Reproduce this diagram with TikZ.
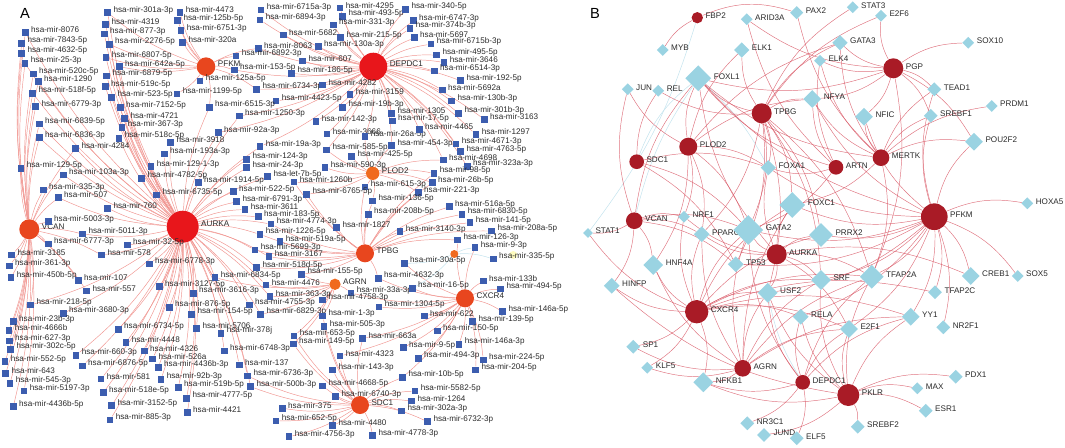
\documentclass[tikz,border=0pt]{standalone}
\usepackage{fontspec}
\setmainfont{Liberation Sans}
\usetikzlibrary{shapes.geometric}
\definecolor{sqblue}{HTML}{3C5DAF}
\definecolor{hubred}{HTML}{E8161B}
\definecolor{huborange}{HTML}{E8461E}
\definecolor{hublight}{HTML}{F06A1E}
\definecolor{aedgecol}{HTML}{F09590}
\definecolor{genered}{HTML}{A91B26}
\definecolor{tfblue}{HTML}{9AD3E2}
\definecolor{bedgecol}{HTML}{D95A68}
\definecolor{ltblue}{HTML}{C6E4EE}
\definecolor{labgray}{HTML}{2A2A2A}
\pgfdeclarelayer{edgelayer}
\pgfsetlayers{edgelayer,main}
\tikzset{
  mirlab/.style={font=\fontsize{6.1}{7}\selectfont, text=labgray, inner sep=0pt, yshift=2pt},
  blab/.style={font=\fontsize{6.1}{7}\selectfont, text=labgray, inner sep=0pt, yshift=1.5pt},
  mirsq/.style={rectangle, fill=sqblue, inner sep=0pt, minimum size=5pt},
  hubA/.style={circle, inner sep=0pt},
  genenode/.style={circle, fill=genered, inner sep=0pt},
  tfnode/.style={diamond, fill=tfblue, inner sep=0pt},
  aedge/.style={draw=aedgecol, line width=0.35pt},
  alight/.style={draw=ltblue, line width=0.4pt},
  bedge/.style={draw=bedgecol, line width=0.35pt, opacity=0.85},
  blight/.style={draw=ltblue, line width=0.4pt},
  panel/.style={font=\fontsize{11}{13}\selectfont, inner sep=0pt}
}
\begin{document}
\begin{tikzpicture}[x=0.75pt, y=-0.75pt, label distance=1.5pt]
\useasboundingbox (0,0) rectangle (1065,447);

% panel A
\node[panel] (labA) at (25,13) {A};

\node[hubA, fill=hubred, minimum size=24pt, label={[mirlab]right:AURKA}] (AURKA) at (182.7,226.7) {};
\node[hubA, fill=hubred, minimum size=21pt, label={[mirlab]right:DEPDC1}] (DEPDC1) at (373.3,66.7) {};
\node[hubA, fill=huborange, minimum size=14pt, label={[mirlab]right:PFKM}] (PFKM) at (206,66.7) {};
\node[hubA, fill=huborange, minimum size=15pt, label={[mirlab]right:VCAN}] (VCAN) at (29.3,229.3) {};
\node[hubA, fill=hublight, minimum size=10pt, label={[mirlab]right:PLOD2}] (PLOD2) at (372.7,173.3) {};
\node[hubA, fill=huborange, minimum size=13.5pt, label={[mirlab]right:TPBG}] (TPBG) at (365,253.3) {};
\node[hubA, fill=hublight, minimum size=8.5pt, label={[mirlab]right:AGRN}] (AGRN) at (335,284.3) {};
\node[hubA, fill=huborange, minimum size=13.5pt, label={[mirlab]right:CXCR4}] (CXCR4) at (465,298.3) {};
\node[hubA, fill=huborange, minimum size=13.5pt, label={[mirlab]right:SDC1}] (SDC1) at (360,405) {};
\node[hubA, fill=hublight, minimum size=6pt] (hubsmall) at (454.3,254) {};
\node[hubA, fill=yellow!25, minimum size=6pt] (hubyellow) at (513.3,255) {};

\foreach \mr/\x/\y in {8076/25.3/32.7, 7843-5p/21.7/43.3, 4632-5p/21.7/53.3, 25-3p/25/63.3,
  520c-5p/33.3/74, 1290/38.3/81.7, 518f-5p/32.7/93.3, 6779-3p/35.7/106.7, 6839-5p/39.3/124,
  6836-3p/39.3/137.7, 4284/75.7/148.3, 301a-3p/107.7/12.7, 4319/105.7/24.3, 877-3p/104.3/34,
  2276-5p/109.3/44.3, 6807-5p/106/57.7, 642a-5p/119.3/66.7, 6879-5p/106.7/76, 519c-5p/105.3/86.7,
  523-5p/111.7/97.3, 7152-5p/120.3/107.7, 4721/124.7/118.3, 367-3p/122/127.3, 518c-5p/119/138.3,
  4473/180/12.7, 125b-5p/177.7/20.7, 6751-3p/181/30.7, 320a/182.7/42.3, 3918/170.7/142.7,
  6715a-3p/261/10, 6894-3p/260/20, 5682/283.3/35, 8063/258.3/48.3, 6892-3p/236/56, 607/302.7/61,
  153-5p/234.3/70, 186-5p/291.7/73.3, 125a-5p/200/81, 1199-5p/177/94, 6734-3p/256.7/89.3,
  4282/322.7/85, 4423-5p/276/101, 6515-3p/209.3/107.3, 1250-3p/239.3/116, 92a-3p/218.3/132.7,
  3159/350/94.3, 19b-3p/342.7/107.3, 142-3p/316/121.7, 3666/327/134, 19a-3p/260/146.7,
  585-5p/326.7/150, 26a-5p/365/136.7, 4295/340/8, 493-5p/342.7/16.3, 331-3p/333.3/25,
  215-5p/340.7/37.7, 130a-3p/318.3/46.7, 340-5p/405.7/9.3, 6747-3p/413.3/20.7, 374b-3p/410/28.3,
  5697/414.3/37.7, 6715b-3p/431/44, 495-5p/436.7/55, 3646/444/62.3, 6514-3p/434.3/71,
  192-5p/460.7/80.7, 5692a/442.3/90, 130b-3p/451.7/101, 301b-3p/458.7/113.3, 3163/484.3/119.3,
  1305/391.7/113.3, 17-5p/392.3/121, 4465/419.3/129.3, 1297/476/134.7, 454-3p/391.7/145.7,
  4671-3p/456/144, 4763-5p/460.7/151.7, 425-5p/351.7/156.7, 590-3p/325/167.7, 4698/443.3/160,
  323a-3p/467.3/166.5, 98-5p/434/173.3, 26b-5p/432.3/182.7, 221-3p/418.3/192.7, 615-3p/365/187,
  136-5p/372.7/201, 208b-5p/368.3/214.3, 1827/336.7/227.7, 516a-5p/449.3/206.7, 6830-5p/462/214.3,
  141-5p/470/222.7, 3140-3p/400/231.7, 208a-5p/491.7/231, 126-3p/457.7/240, 9-3p/475/247.7,
  335-5p/493.3/259, 30a-5p/404.3/263.3, 4632-3p/378.3/278.3, 33a-3p/351/293, 16-5p/412.3/288.3,
  133b/483.3/281, 494-5p/500.7/289, 4758-3p/322.7/300, 129-5p/21/168.3, 103a-3p/63.3/175,
  335-3p/43.3/190, 507/58.3/197.7, 760/107.7/208.3, 5003-3p/48.3/221.7, 5011-3p/82.7/234,
  6777-3p/48.3/244, 32-5p/127.3/245, 578/101.7/255, 3185/11.7/255, 361-3p/9.3/266,
  450b-5p/11/277.7, 107/78.3/280.7, 557/86.7/291, 6778-3p/149.3/264, 3127-5p/159.3/286.7,
  3616-3p/193.3/293.3, 193a-3p/164.3/154, 129-1-3p/151/166.7, 4782-5p/141.7/178.3,
  6735-5p/156.7/195, 1914-5p/198.3/182.7, 124-3p/246.7/159.3, 24-3p/246.7/167.7, 1260b/294/182,
  6765-5p/306.7/194.3, 522-5p/233.3/191.7, 6791-3p/236.7/201.7, 3611/245/209.3, 183-5p/258.3/216.7,
  4774-3p/271/224, 1226-5p/260/234.3, 519a-5p/280/241.7, 5699-3p/255/250, 3167/269/256.7,
  518d-5p/256.7/267.7, 6834-5p/215/277.7, 155-5p/301.7/274.3, 4476/266/285, 363-3p/270/296.7,
  218-5p/30.7/305, 3680-3p/63.3/313.3, 23b-3p/13.3/321.7, 4666b/9/330.7, 627-3p/9.3/341,
  302c-5p/10.7/349.3, 552-5p/5/361.7, 643/5.7/373.3, 545-3p/10/383.3, 5197-3p/24/391,
  4436b-5p/13.3/406.7, 6734-5p/118.3/329.3, 4448/126/342.3, 660-3p/76/355.3, 6876-5p/82.3/366,
  4326/144.3/351, 526a/152.7/359, 4436b-3p/158.3/367.3, 581/101/379, 92b-3p/161/379.3,
  518e-5p/103.3/392.7, 519b-5p/178.3/387.3, 3152-5p/111.7/405.7, 4777-5p/186.7/398.3,
  885-3p/110/420, 4421/187.3/412.7, 876-5p/169.3/307.3, 154-5p/191.7/314.3, 5706/196.7/328.3,
  378j/221/333.3, 6748-3p/224.3/351, 137/239.3/365, 6736-3p/247.7/376, 500b-3p/250.7/386.7,
  4755-3p/249.3/305, 6829-3p/260.7/314.3, 1-3p/322.7/316, 505-3p/324/326.7, 653-5p/294/336,
  149-5p/293.3/344, 663a/362.7/338.3, 4323/340/356, 143-3p/332.7/370, 4668-5p/322.7/386,
  6740-3p/335.7/396.7, 375/282.3/408.3, 652-5p/276/421, 4480/332.7/425.7, 4756-3p/289/436.7,
  4778-3p/372.7/435.7, 1304-5p/379/307, 622/424.3/316, 146a-5p/502.7/311.7, 139-5p/472.7/321.7,
  150-5p/437.3/331, 146a-3p/459/344.3, 9-5p/403.3/347.7, 494-3p/418.3/358.3, 224-5p/483.3/360,
  204-5p/475.7/370, 10b-5p/402.7/377.3, 5582-5p/415/391, 1264/411.7/401, 302a-3p/401.7/411,
  6732-3p/427.7/421.7}
  \node[mirsq, label={[mirlab]right:hsa-mir-\mr}] (m\mr) at (\x,\y) {};
\node[mirsq, label={[mirlab]right:hsa-let-7b-5p}] (mlet7b) at (267.7,176.7) {};

\begin{pgfonlayer}{edgelayer}
\foreach \mr in {8076, 7843-5p, 4632-5p, 25-3p, 520c-5p, 1290, 518f-5p, 6779-3p, 6839-5p,
  6836-3p, 129-5p, 103a-3p, 335-3p, 507, 5003-3p, 5011-3p, 6777-3p, 3185, 361-3p, 450b-5p, 107,
  557, 218-5p, 23b-3p, 4666b, 627-3p, 302c-5p, 552-5p, 643, 545-3p, 5197-3p, 4436b-5p, 578, 4284}
  \draw[aedge] (VCAN) to[bend left=8] (m\mr);
\foreach \mr in {301a-3p, 4319, 877-3p, 2276-5p, 6807-5p, 642a-5p, 6879-5p, 519c-5p, 523-5p,
  7152-5p, 4721, 367-3p, 518c-5p, 3918, 193a-3p, 129-1-3p, 4782-5p, 6735-5p, 1914-5p, 760, 32-5p,
  6778-3p, 3127-5p, 3616-3p, 522-5p, 6791-3p, 3611, 183-5p, 4774-3p, 1226-5p, 5699-3p, 3167,
  518d-5p, 6834-5p, 876-5p, 154-5p, 5706, 378j, 6748-3p, 137, 6736-3p, 500b-3p, 4755-3p, 6734-5p,
  4448, 660-3p, 6876-5p, 4326, 526a, 4436b-3p, 581, 92b-3p, 518e-5p, 519b-5p, 3152-5p, 4777-5p,
  885-3p, 4421, 3680-3p, 92a-3p, 1250-3p, 6515-3p, 124-3p, 24-3p, 19a-3p, 363-3p, 6829-3p, 4476,
  4284, 103a-3p, 507, 578, 5011-3p, 218-5p, 6839-5p, 6836-3p, 518f-5p, 520c-5p, 8076, 25-3p}
  \draw[aedge] (AURKA) to[bend left=10] (m\mr);
\draw[aedge] (AURKA) to[bend left=10] (mlet7b);
\foreach \mr in {4473, 125b-5p, 6751-3p, 320a, 6892-3p, 153-5p, 125a-5p, 1199-5p, 6734-3p,
  642a-5p, 6807-5p, 8063, 6515-3p, 2276-5p, 301a-3p}
  \draw[aedge] (PFKM) to[bend left=10] (m\mr);
\foreach \mr in {6715a-3p, 6894-3p, 4295, 493-5p, 331-3p, 5682, 215-5p, 8063, 130a-3p, 607,
  186-5p, 4282, 340-5p, 6747-3p, 374b-3p, 5697, 6715b-3p, 495-5p, 3646, 6514-3p, 192-5p, 5692a,
  130b-3p, 301b-3p, 3163, 3159, 4423-5p, 19b-3p, 142-3p, 1305, 17-5p, 4465, 1297, 26a-5p, 454-3p,
  4671-3p, 4763-5p, 4698, 323a-3p, 3666, 585-5p, 6734-3p, 1250-3p, 92a-3p, 19a-3p, 153-5p}
  \draw[aedge] (DEPDC1) to[bend left=10] (m\mr);
\foreach \mr in {425-5p, 590-3p, 1260b, 6765-5p, 615-3p, 136-5p, 585-5p, 98-5p, 26b-5p, 221-3p,
  26a-5p, 454-3p, 4698}
  \draw[aedge] (PLOD2) to[bend left=10] (m\mr);
\foreach \mr in {1827, 208b-5p, 516a-5p, 6830-5p, 141-5p, 3140-3p, 208a-5p, 126-3p, 4632-3p,
  155-5p, 519a-5p, 4774-3p, 1226-5p, 136-5p, 6765-5p, 615-3p, 1260b, 221-3p, 98-5p, 26b-5p,
  5699-3p, 3167, 518d-5p}
  \draw[aedge] (TPBG) to[bend left=10] (m\mr);
\foreach \mr in {4476, 155-5p, 4758-3p, 363-3p, 6829-3p, 33a-3p, 1-3p, 653-5p, 149-5p, 6834-5p}
  \draw[aedge] (AGRN) to[bend left=10] (m\mr);
\foreach \mr in {16-5p, 133b, 494-5p, 1304-5p, 622, 146a-5p, 139-5p, 150-5p, 146a-3p, 9-5p,
  494-3p, 224-5p, 204-5p, 663a, 4323, 126-3p, 9-3p, 30a-5p, 33a-3p, 4632-3p, 10b-5p}
  \draw[aedge] (CXCR4) to[bend left=10] (m\mr);
\foreach \mr in {375, 652-5p, 4480, 4756-3p, 4778-3p, 6740-3p, 4668-5p, 143-3p, 10b-5p, 5582-5p,
  1264, 302a-3p, 6732-3p, 500b-3p, 505-3p, 1-3p, 4323, 653-5p, 149-5p, 6736-3p, 663a}
  \draw[aedge] (SDC1) to[bend left=10] (m\mr);
\foreach \mr in {9-3p, 335-5p, 16-5p, 30a-5p}
  \draw[alight] (hubsmall) to[bend left=10] (m\mr);
\end{pgfonlayer}

% panel B
\node[panel] (labB) at (595,13.3) {B};

\foreach \g/\x/\y/\s in {FBP2/697.3/17.7/8.5, PGP/893.3/68.3/15, TPBG/761.7/113.3/15,
  PLOD2/688.3/146.7/13.5, MERTK/881/157.7/12.5, SDC1/636.7/161.7/11, ARTN/836/167.3/11,
  PFKM/934.3/216.7/20, VCAN/634.3/220.7/12.5, AURKA/776.7/254.3/15, CXCR4/696.7/311.7/17.5,
  AGRN/742.7/368.3/12.5, DEPDC1/802.7/382.3/11, PKLR/848.3/395/16.5}
  \node[genenode, minimum size=\s pt, label={[blab]right:\g}] (b\g) at (\x,\y) {};

\foreach \t/\x/\y/\s in {ARID3A/746.7/19.3/9, PAX2/796.7/12.7/10, STAT3/852.7/7.3/9,
  E2F6/881/15.7/9, MYB/662.7/50/9, ELK1/741.7/50/11.5, GATA3/840/42.7/11.5, ELK4/820/60.7/9,
  SOX10/968.3/42.7/9, FOXL1/698.3/78.3/19.5, JUN/627.7/89.3/9, REL/658.3/90.7/9,
  TEAD1/934.3/89.3/10.5, NFYA/812.3/99/13.5, PRDM1/991.7/106/9, NFIC/864/116.7/13.5,
  SREBF1/930.7/115.7/10.5, POU2F2/974/141.7/13.5, FOXA1/768.3/167.7/11.5, FOXC1/792.3/205/19.5,
  HOXA5/1027.3/203.3/9, NRF1/684/216.7/9, STAT1/588/233/7.5, PPARG/701.7/234.3/12,
  GATA2/748.3/230/22.5, PRRX2/821/235/18, HNF4A/653.3/265/15, TP53/735.7/264.3/12,
  SRF/821/280/15, TFAP2A/871.7/276.7/18, CREB1/970.7/276/13.5, SOX5/1017.7/276/9,
  HINFP/611.7/285.7/12, USF2/767.7/292.7/15, TFAP2C/935/292.3/10.5, RELA/800.7/316.7/12,
  YY1/910.7/316.7/13.5, E2F1/849/329/13.5, NR2F1/943.3/327.3/10.5, SP1/633.3/346.7/10.5,
  KLF5/647.3/367.7/9, NFKB1/703.3/382.3/15, PDX1/955.7/376.7/10.5, MAX/917.3/388.3/9,
  ESR1/925.7/410.7/10.5, SREBF2/857.7/426.7/10.5, NR3C1/747.3/423.3/10.5, JUND/764/435/10.5,
  ELF5/796.7/438.3/10.5}
  \node[tfnode, minimum size=\s pt, label={[blab]right:\t}] (\t) at (\x,\y) {};

\begin{pgfonlayer}{edgelayer}
\draw[bedge] (bFBP2) to[bend right=15] (MYB);
\draw[bedge] (bFBP2) to[bend left=20] (PAX2);
\draw[blight] (bFBP2) to[bend left=10] (STAT1);
\draw[blight] (FOXL1) to[bend right=15] (bSDC1);
\draw[blight] (FOXL1) to[bend right=10] (bVCAN);
\draw[blight] (FOXL1) to[bend left=10] (FOXA1);
\draw[blight] (USF2) to[bend right=10] (bDEPDC1);
\foreach \t in {SOX10, GATA3, ELK4, ARID3A, TEAD1, SREBF1, NFYA, NFIC, FOXL1, POU2F2, TFAP2A, E2F6}
  \draw[bedge] (bPGP) to[bend left=16] (\t);
\foreach \t in {STAT3, E2F6, FOXL1, ELK1, NFYA, GATA2, FOXA1, FOXC1, USF2, SRF, GATA3, PPARG,
  TP53, TFAP2A, PRRX2, REL}
  \draw[bedge] (bTPBG) to[bend left=16] (\t);
\foreach \t in {FOXL1, ELK1, NFYA, GATA3, HNF4A, NRF1, FOXA1, GATA2, PPARG, JUN}
  \draw[bedge] (bPLOD2) to[bend left=16] (\t);
\foreach \t in {GATA3, NFIC, SREBF1, FOXC1, POU2F2, TFAP2A, PAX2, TEAD1, ELK4, PRDM1, FOXL1, NFYA}
  \draw[bedge] (bMERTK) to[bend left=16] (\t);
\foreach \t in {NFYA, FOXA1, FOXL1, GATA2, ELK4, ARID3A}
  \draw[bedge] (bARTN) to[bend left=16] (\t);
\foreach \t in {FOXA1, GATA2, REL, TP53}
  \draw[bedge] (bSDC1) to[bend left=16] (\t);
\foreach \t in {STAT1, PPARG, NRF1, GATA2, HNF4A, HINFP, FOXL1, TP53, JUN}
  \draw[bedge] (bVCAN) to[bend left=16] (\t);
\foreach \t in {HOXA5, SOX5, CREB1, TFAP2C, TFAP2A, YY1, NR2F1, E2F1, SRF, PRRX2, FOXC1, GATA2,
  FOXA1, NFIC, SREBF1, TEAD1, POU2F2, USF2, RELA, NFYA, FOXL1, TP53}
  \draw[bedge] (bPFKM) to[bend left=16] (\t);
\foreach \t in {GATA2, PRRX2, FOXC1, PPARG, TP53, SRF, TFAP2A, E2F1, USF2, NRF1, FOXA1, CREB1, FOXL1}
  \draw[bedge] (bAURKA) to[bend left=16] (\t);
\foreach \t in {SP1, KLF5, NFKB1, HINFP, HNF4A, STAT1, PPARG, GATA2, USF2, RELA, E2F1, TFAP2A,
  SRF, YY1, NRF1, FOXC1, PRRX2, TFAP2C}
  \draw[bedge] (bCXCR4) to[bend left=16] (\t);
\foreach \t in {KLF5, NFKB1, USF2, E2F1, GATA2, SP1, HNF4A, SRF, TFAP2A, PPARG, FOXC1, YY1}
  \draw[bedge] (bAGRN) to[bend left=16] (\t);
\foreach \t in {NR3C1, ELF5, E2F1, USF2, NFKB1, RELA, TFAP2A, YY1, GATA2}
  \draw[bedge] (bDEPDC1) to[bend left=16] (\t);
\foreach \t in {PDX1, MAX, ESR1, SREBF2, JUND, NFKB1, E2F1, USF2, RELA, HINFP, SRF, YY1, TFAP2A}
  \draw[bedge] (bPKLR) to[bend left=16] (\t);
\end{pgfonlayer}
\end{tikzpicture}
\end{document}
